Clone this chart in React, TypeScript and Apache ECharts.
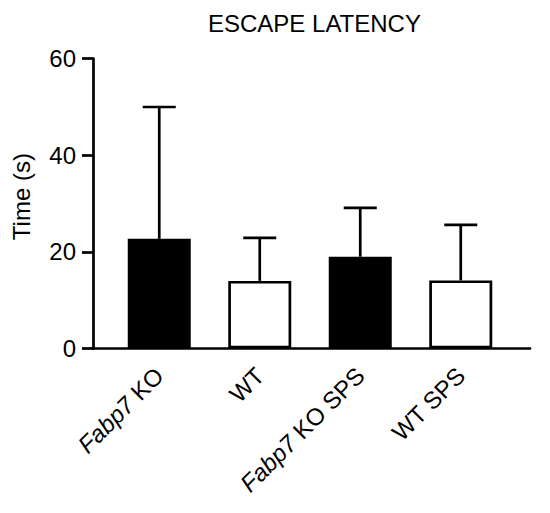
import React, { useEffect, useRef } from "react";
import * as echarts from "echarts";

// escape latency per group (mean + upper error)
const categories = ["Fabp7 KO", "WT", "Fabp7 KO SPS", "WT SPS"];
const means = [22.7, 14.0, 19.0, 14.1];
const errors = [27.3, 8.9, 10.1, 11.5];
const yTicks = [0, 20, 40, 60];

const FONT = "'Liberation Sans', Arial, sans-serif";
const FS = 24;
const LW = 2.7;

const App: React.FC = () => {
  const chartRef = useRef<HTMLDivElement>(null);

  useEffect(() => {
    const chart = echarts.init(chartRef.current, null, { renderer: "svg" });

    const option: echarts.EChartsOption = {
      animation: false,
      backgroundColor: "#fff",
      title: {
        text: "ESCAPE LATENCY",
        left: 208,
        top: 11,
        padding: 0,
        textStyle: { fontFamily: FONT, fontSize: FS, fontWeight: "normal", color: "#000" },
      },
      grid: [
        { left: 109, right: 39, top: 58.7, bottom: 164.5 },
        { left: 93, right: 20, top: 58.7, bottom: 164.5 },
      ],
      xAxis: [
        {
          type: "category",
          gridIndex: 0,
          data: categories,
          axisLine: { show: false },
          axisTick: { alignWithLabel: true, length: 12, lineStyle: { color: "#000", width: LW } },
          axisLabel: {
            rotate: 45,
            margin: 23,
            interval: 0,
            color: "#000",
            fontFamily: FONT,
            fontSize: FS,
            formatter: (v: string) =>
              v.startsWith("Fabp7")
                ? `{i|Fabp7}{n|${v.slice(5)}}`
                : `{n|${v}}`,
            rich: {
              i: { fontStyle: "italic", fontFamily: FONT, fontSize: FS, color: "#000" },
              n: { fontFamily: FONT, fontSize: FS, color: "#000" },
            },
          },
        },
        {
          type: "value",
          gridIndex: 1,
          min: 0,
          max: 1,
          axisLine: { show: true, onZero: false, lineStyle: { color: "#000", width: LW } },
          axisTick: { show: false },
          axisLabel: { show: false },
          splitLine: { show: false },
        },
      ],
      yAxis: [
        {
          type: "value",
          gridIndex: 0,
          min: 0,
          max: 60,
          show: false,
        },
        {
          type: "value",
          gridIndex: 1,
          min: yTicks[0],
          max: yTicks[yTicks.length - 1],
          interval: 20,
          name: "Time (s)",
          nameLocation: "middle",
          nameGap: 60,
          nameTextStyle: { fontFamily: FONT, fontSize: FS, color: "#000", padding: [0, 0, 0, 14] },
          axisLine: { show: true, lineStyle: { color: "#000", width: LW } },
          axisTick: { show: true, length: 11, lineStyle: { color: "#000", width: LW } },
          axisLabel: { margin: 17, color: "#000", fontFamily: FONT, fontSize: FS },
          splitLine: { show: false },
        },
      ],
      series: [
        {
          type: "bar",
          xAxisIndex: 0,
          yAxisIndex: 0,
          barWidth: 63,
          data: means.map((m, i) => ({
            value: m,
            itemStyle: {
              color: categories[i].startsWith("Fabp7") ? "#000" : "#fff",
              borderColor: "#000",
              borderWidth: LW,
            },
          })),
        },
        {
          type: "custom",
          xAxisIndex: 0,
          yAxisIndex: 0,
          z: 3,
          data: means.map((m, i) => [i, m, m + errors[i]]),
          renderItem: (params: any, api: any) => {
            const base = api.coord([api.value(0), api.value(1)]);
            const top = api.coord([api.value(0), api.value(2)]);
            const style = { stroke: "#000", lineWidth: LW };
            return {
              type: "group",
              children: [
                { type: "line", shape: { x1: base[0], y1: base[1], x2: top[0], y2: top[1] }, style },
                { type: "line", shape: { x1: top[0] - 16.5, y1: top[1], x2: top[0] + 16.5, y2: top[1] }, style },
              ],
            };
          },
        },
      ],
    };

    chart.setOption(option);
    return () => {
      chart.dispose();
    };
  }, []);

  return (
    <div
      ref={chartRef}
      style={{ position: "fixed", left: 0, top: 0, width: 550, height: 513 }}
    />
  );
};

export default App;
